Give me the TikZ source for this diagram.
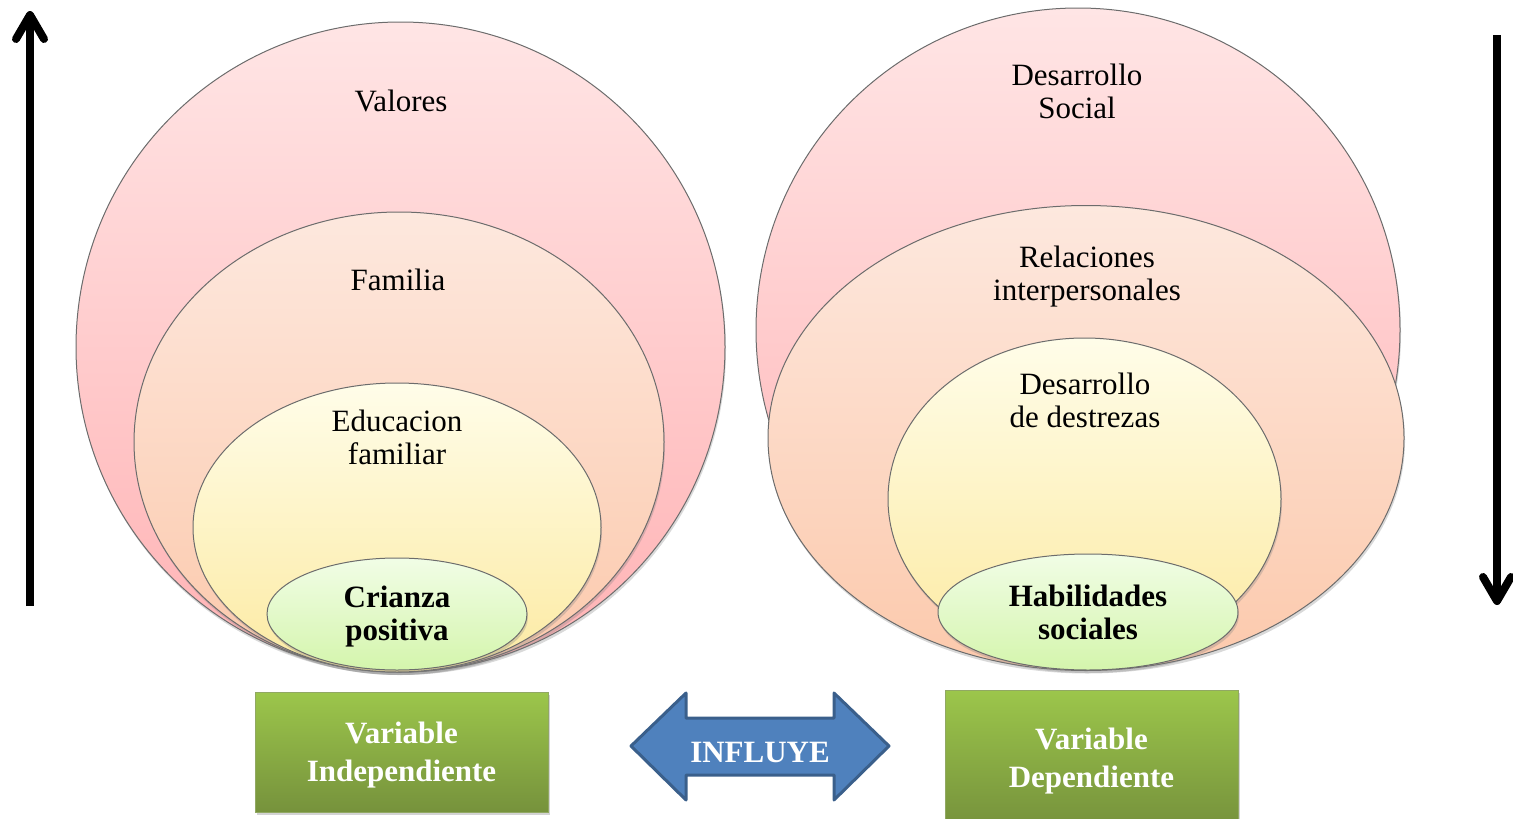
\documentclass[tikz,border=0pt]{standalone}
\usepackage{fontspec}
\setmainfont{Liberation Serif}
\usepackage{xcolor}
\usetikzlibrary{shapes.geometric,shadows,arrows.meta}

\definecolor{pinkTop}{HTML}{FFE5E5}
\definecolor{pinkBot}{HTML}{FFB2B4}
\definecolor{peachTop}{HTML}{FDE8DE}
\definecolor{peachBot}{HTML}{FCC9AC}
\definecolor{yellowTop}{HTML}{FFFDE9}
\definecolor{yellowBot}{HTML}{FCEAA2}
\definecolor{greenTop}{HTML}{F1FDE6}
\definecolor{greenBot}{HTML}{D4F5AC}
\definecolor{boxTop}{HTML}{9CC64B}
\definecolor{boxBot}{HTML}{76923C}
\definecolor{arrowFill}{HTML}{4F81BD}
\definecolor{arrowLine}{HTML}{3A5F8B}

\begin{document}
\begin{tikzpicture}[x=1pt, y=-1pt,
        ring/.style={ellipse, draw=gray!85!black, line width=1pt, inner sep=0pt,
            drop shadow={opacity=0.3, shadow xshift=1pt, shadow yshift=-3pt}},
        ring pink/.style={ring, top color=pinkTop, bottom color=pinkBot},
        ring peach/.style={ring, top color=peachTop, bottom color=peachBot},
        ring yellow/.style={ring, top color=yellowTop, bottom color=yellowBot},
        ring green/.style={ring, top color=greenTop, bottom color=greenBot},
        txt/.style={font=\fontsize{31}{33}\selectfont, align=center, inner sep=0pt},
        var box/.style={rectangle, top color=boxTop, bottom color=boxBot, draw=boxBot!80!white,
            minimum width=293pt, text=white, align=center, text depth=0pt,
            font=\fontsize{31}{38}\selectfont\bfseries,
            drop shadow={opacity=0.35, shadow xshift=2pt, shadow yshift=-3pt}},
        vert arrow/.style={line width=8pt, -{Straight Barb[round, length=24pt, width=28pt]}}]

    \useasboundingbox (0,0) rectangle (1513,819);

    % independent variable side
    \node[ring pink, minimum width=649pt, minimum height=650pt] (valores) at (400.5,347) {};
    \node[ring peach, minimum width=530pt, minimum height=460pt] (familia) at (399,442) {};
    \node[ring yellow, minimum width=408pt, minimum height=289pt] (educacion) at (397,527.5) {};
    \node[ring green, minimum width=260pt, minimum height=112pt] (crianza) at (397,614) {};

    \node[txt] (valores text) at (401,101) {Valores};
    \node[txt] (familia text) at (398,280) {Familia};
    \node[txt] (educacion text) at (397,437) {Educacion\\familiar};
    \node[txt, font=\fontsize{31}{33}\selectfont\bfseries] (crianza text) at (397,617) {Crianza\\positiva};

    % dependent variable side
    \node[ring pink, minimum width=644pt, minimum height=644pt] (dsocial) at (1078,330) {};
    \node[ring peach, minimum width=636pt, minimum height=465pt] (relaciones) at (1086,438) {};
    \node[ring yellow, minimum width=393pt, minimum height=322pt] (destrezas) at (1084.5,499) {};
    \node[ring green, minimum width=300pt, minimum height=116pt] (habilidades) at (1088,612) {};

    \node[txt] (dsocial text) at (1077,91) {Desarrollo\\Social};
    \node[txt] (relaciones text) at (1087,277) {Relaciones\\interpersonales};
    \node[txt] (destrezas text) at (1085,400) {Desarrollo\\de destrezas};
    \node[txt, font=\fontsize{31}{33}\selectfont\bfseries] (habilidades text) at (1088,612) {Habilidades\\sociales};

    % variables
    \node[var box, minimum height=120pt] (indep) at (401.5,752) {Variable\\Independiente};
    \node[var box, minimum height=136pt] (dep) at (1091.5,758) {Variable\\Dependiente};

    % influence arrow
    \filldraw[fill=arrowFill, draw=arrowLine, line width=3pt, line join=round]
        (631,746) -- (686,693) -- (686,718) -- (834,718) -- (834,693) -- (889,746)
        -- (834,800) -- (834,775) -- (686,775) -- (686,800) -- cycle;
    \node[font=\fontsize{31}{33}\selectfont\bfseries, text=white, inner sep=0pt, anchor=base]
        (influye) at (760,762) {INFLUYE};

    % side arrows
    \coordinate (up start) at (30,606);
    \coordinate (up end) at (30,11);
    \coordinate (down start) at (1497,35);
    \coordinate (down end) at (1497,605);
    \draw[vert arrow] (up start) -- (up end);
    \draw[vert arrow] (down start) -- (down end);
\end{tikzpicture}
\end{document}
